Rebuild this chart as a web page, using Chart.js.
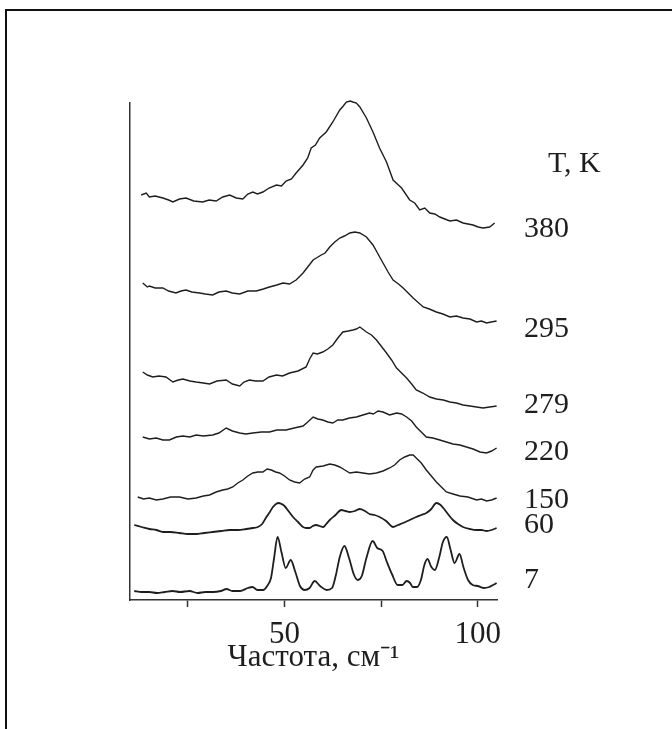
<!DOCTYPE html>
<html>
<head>
<meta charset="utf-8">
<script src="https://cdn.jsdelivr.net/npm/chart.js@4/dist/chart.umd.min.js"></script>
<style>
  body { margin: 0; background: #fff; }
  #wrap { position: relative; width: 672px; height: 729px; overflow: hidden; }
  #frame { position: absolute; left: 5px; top: 9px; width: 800px; height: 800px;
           border-top: 2px solid #111; border-left: 2px solid #111; }
  canvas { position: absolute; left: 0; top: 0; }
</style>
</head>
<body>
<div id="wrap">
  <div id="frame"></div>
  <canvas id="spectra" width="672" height="729"></canvas>
</div>
<script>
// frequency axis ticks
const xTicks = [25, 50, 75, 100];
const xTickLabels = [50, 100];

// temperature labels at the right, and their levels on the offset intensity scale
const tempLabels = ['380', '295', '279', '220', '150', '60', '7'];
const tempLevels = [371, 271, 195, 148, 100, 75, 20];
const unitLabel = 'T, K';
const unitLevel = 436;

// spectra (frequency, cm-1 / intensity with vertical offset, arb. units)
const f380 = [12.9,14.2,15.0,16.5,18.5,20.0,21.1,22.8,24.5,26.5,28.8,30.5,32.3,34.0,35.8,37.5,39.2,40.5,41.8,43.0,44.4,46.0,47.9,49.2,50.4,51.8,53.0,54.8,56.0,56.9,58.0,59.1,60.8,62.5,64.3,65.2,66.0,67.0,67.7,68.6,69.5,71.2,72.9,74.6,76.4,78.1,79.2,80.3,82.4,83.7,85.0,86.3,87.6,88.9,90.2,91.5,92.8,94.5,96.2,97.5,98.8,100.1,101.4,103.1,104.4];
const i380 = [405,407,403,404,402,400,398,401,402,399,398,400,399,403,405,402,401,406,408,406,408,412,415,414,419,421,427,435,442,452,455,462,468,478,490,494,498,499,498,497,493,482,468,452,438,420,416,412,400,397,390,392,387,386,383,381,379,380,377,376,375,373,372,373,377];

const f295 = [13.3,14.5,15.0,16.5,18.5,20.0,21.9,23.2,24.5,26.0,28.0,29.5,31.4,33.0,34.9,36.5,38.4,40.5,42.7,44.5,46.1,48.0,49.6,51.3,53.0,54.8,56.0,57.4,59.5,60.5,61.7,63.0,64.3,65.5,66.9,68.2,69.5,71.2,72.9,74.2,75.5,76.8,78.1,79.5,80.7,82.0,83.3,85.9,87.5,89.3,91.0,92.8,94.5,96.2,98.0,99.7,101.0,102.3,103.5,104.9];
const i295 = [317,313,314,312,312,309,307,309,310,308,307,306,305,308,309,307,306,309,309,311,313,315,317,316,320,327,333,340,345,347,353,358,362,364,367,368,367,363,355,346,337,328,320,316,312,307,302,293,291,288,286,283,284,282,281,278,279,277,278,279];

const f279 = [13.3,14.5,15.9,17.5,19.3,21.1,22.5,23.7,25.5,27.1,29.0,30.6,32.5,34.9,36.5,38.4,39.5,40.9,42.5,44.4,46.0,47.9,49.5,51.3,53.5,55.6,56.5,57.4,58.5,59.9,61.2,62.5,63.8,65.1,66.5,67.7,68.6,69.5,71.2,72.5,73.8,75.0,76.4,77.7,79.0,80.3,81.6,82.9,84.1,85.8,87.6,89.3,91.1,92.8,94.5,96.2,98.0,99.7,101.4,103.1,104.9];
const i279 = [228,225,223,224,223,218,220,221,219,218,217,216,219,220,216,214,218,220,219,219,223,225,224,227,229,233,241,247,246,248,251,255,262,268,269,270,271,273,268,265,260,254,247,240,232,227,222,216,210,207,203,201,200,198,197,195,194,193,192,193,194];

const f220 = [13.3,15.0,16.8,18.5,20.2,22.0,23.7,25.5,27.1,29.0,31.4,33.0,34.9,36.5,38.4,40.0,41.8,44.0,46.1,48.0,50.4,52.5,54.8,56.0,57.4,58.6,59.9,61.2,62.5,63.8,65.1,66.8,68.6,70.3,72.0,73.0,74.2,75.5,77.2,78.1,79.0,80.3,81.6,82.9,84.1,85.4,86.7,88.4,90.2,91.9,93.6,95.4,97.1,98.8,100.6,102.3,103.6,104.9];
const i220 = [163,161,162,160,160,163,164,163,165,164,165,167,172,169,167,166,167,168,168,170,170,172,174,178,183,181,180,178,177,180,180,182,183,185,187,186,189,188,185,186,187,186,183,179,173,168,163,162,160,158,156,155,153,151,148,147,149,152];

const f150 = [12.0,13.5,15.0,16.8,18.5,20.5,22.8,25.0,27.1,29.0,30.6,32.3,34.0,35.3,36.6,37.9,39.2,40.5,41.8,43.1,44.4,45.5,46.6,47.7,48.7,50.0,51.3,52.6,53.9,55.2,56.5,57.4,58.2,60.0,61.7,63.0,64.3,65.6,66.9,68.6,70.3,72.0,73.8,75.5,77.2,78.5,79.8,81.1,82.4,83.3,84.1,85.4,86.7,88.0,89.3,90.6,91.9,93.6,95.4,97.5,99.7,101.0,102.3,103.6,104.9];
const i150 = [103,101,102,100,101,103,103,101,102,104,105,108,110,111,113,117,120,124,127,128,128,131,130,128,127,124,120,118,117,121,123,130,133,134,136,135,133,130,127,128,127,126,127,129,132,135,140,143,145,145,142,137,130,124,118,113,108,106,104,103,100,101,99,100,102];

const f60 = [11.1,13.0,15.0,16.8,18.5,20.5,22.8,25.0,27.1,29.2,31.4,33.6,35.8,38.0,40.1,41.8,43.1,44.2,45.3,46.2,47.0,47.8,48.5,49.2,50.0,51.0,52.2,53.5,54.8,55.6,56.5,57.3,58.2,59.1,60.0,60.8,61.7,63.2,64.7,65.8,66.9,68.2,69.5,70.8,72.0,73.3,74.6,76.3,78.1,79.4,80.7,82.4,84.1,85.4,86.7,88.0,89.3,90.4,91.5,92.5,93.6,94.9,96.2,98.0,99.7,101.0,102.3,103.6,104.9];
const i60 = [75,73,71,70,68,68,67,66,66,67,68,69,70,70,71,72,73,76,83,88,93,96,97,96,94,89,83,78,73,72,72,74,75,74,73,76,80,85,90,89,88,89,91,89,86,85,83,79,73,75,77,80,83,85,87,91,97,95,90,85,80,76,73,71,70,70,69,70,72];

const f7 = [11.1,13.0,15.0,17.0,19.0,21.0,23.0,25.4,27.5,29.5,31.5,33.5,35.0,36.5,38.5,40.5,41.7,43.0,44.5,45.5,46.5,47.3,48.2,49.2,50.3,51.6,52.8,54.0,55.2,56.5,57.8,59.2,60.9,62.3,63.3,64.3,65.5,66.7,68.0,69.0,70.0,71.2,72.8,74.0,75.4,76.5,77.8,79.3,80.5,81.6,82.5,83.2,84.3,85.3,86.2,87.0,88.0,88.9,90.0,91.0,92.0,93.0,94.0,95.3,96.3,97.5,98.7,100.0,101.5,103.0,104.0,104.9];
const i7 = [9,8,8,7,8,9,8,9,7,8,8,9,11,9,9,12,13,10,10,14,22,42,63,48,32,40,28,14,10,12,19,14,10,12,25,43,54,42,25,20,24,42,59,52,49,38,26,15,15,19,17,13,13,20,35,41,33,30,42,58,63,50,37,46,33,20,15,14,12,13,15,17];

const freqs = [f380, f295, f279, f220, f150, f60, f7];
const intens = [i380, i295, i279, i220, i150, i60, i7];

const ink = '#1e1e1e';
const serif = '"Liberation Serif", "Times New Roman", serif';

const datasets = tempLabels.map((t, k) => ({
  label: t + ' K',
  data: freqs[k].map((f, j) => ({ x: f, y: intens[k][j] })),
  borderColor: ink,
  borderWidth: (t === '7' || t === '60') ? 1.8 : 1.4,
  pointRadius: 0,
  fill: false,
  clip: false,
  tension: 0,
  cubicInterpolationMode: (t === '7' || t === '60') ? 'monotone' : 'default'
}));

const tempLabelPlugin = {
  id: 'tempLabels',
  afterDatasetsDraw(chart) {
    const { ctx, chartArea, scales: { y } } = chart;
    ctx.save();
    ctx.font = '30px ' + serif;
    ctx.fillStyle = ink;
    ctx.textBaseline = 'middle';
    tempLabels.forEach((t, i) => {
      ctx.fillText(t, chartArea.right + 27, y.getPixelForValue(tempLevels[i]));
    });
    ctx.fillText(unitLabel, chartArea.right + 51, y.getPixelForValue(unitLevel));
    ctx.restore();
  }
};

new Chart(document.getElementById('spectra'), {
  type: 'line',
  data: { datasets },
  options: {
    responsive: false,
    animation: false,
    layout: { padding: { left: 130, right: 175, top: 103, bottom: 56 } },
    plugins: { legend: { display: false }, tooltip: { enabled: false } },
    scales: {
      x: {
        type: 'linear',
        min: 10,
        max: 105,
        afterBuildTicks: axis => { axis.ticks = xTicks.map(v => ({ value: v })); },
        afterFit: axis => { axis.height = 73; },
        ticks: {
          color: ink,
          padding: 19,
          font: { family: serif, size: 31, lineHeight: 0.6 },
          callback: v => xTickLabels.includes(v) ? String(v) : ''
        },
        grid: { drawOnChartArea: false, tickLength: 7, tickColor: '#333', tickWidth: 1.5 },
        border: { color: '#333', width: 1.5 },
        title: {
          display: true,
          text: 'Частота, см⁻¹',
          color: ink,
          font: { family: serif, size: 31, lineHeight: 1 },
          padding: { top: 0, bottom: 0 }
        }
      },
      y: {
        min: 0,
        max: 497,
        ticks: { display: false },
        grid: { drawOnChartArea: false, drawTicks: false },
        border: { color: '#333', width: 1.5 }
      }
    }
  },
  plugins: [tempLabelPlugin]
});
</script>
</body>
</html>
